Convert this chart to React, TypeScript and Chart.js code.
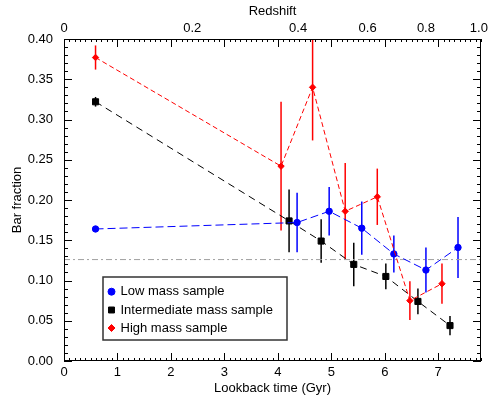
import React, { useEffect, useRef, useState } from 'react';
import { Chart, registerables } from 'chart.js';

Chart.register(...registerables);

// ---- data ----
const seriesLabels = ['Low mass sample', 'Intermediate mass sample', 'High mass sample'];

const lookbackLow = [0.59, 4.36, 4.96, 5.57, 6.17, 6.77, 7.37];
const fracLow = [0.164, 0.172, 0.186, 0.165, 0.133, 0.113, 0.141];
const errLow = [0.003, 0.037, 0.030, 0.033, 0.023, 0.028, 0.038];

const lookbackInt = [0.59, 4.21, 4.81, 5.42, 6.02, 6.62, 7.22];
const fracInt = [0.322, 0.174, 0.149, 0.120, 0.105, 0.074, 0.044];
const errInt = [0.006, 0.039, 0.027, 0.027, 0.016, 0.016, 0.012];

const lookbackHigh = [0.59, 4.06, 4.65, 5.26, 5.86, 6.47, 7.07];
const fracHigh = [0.377, 0.242, 0.340, 0.186, 0.204, 0.075, 0.096];
const errHigh = [0.015, 0.080, 0.066, 0.060, 0.035, 0.024, 0.025];

const barLevel = 0.126;

const xTickValues = [0, 1, 2, 3, 4, 5, 6, 7];
const yTickValues = [0, 0.05, 0.1, 0.15, 0.2, 0.25, 0.3, 0.35, 0.4];
const redshiftLabels = ['0', '0.2', '0.4', '0.6', '0.8', '1.0'];
const redshiftLookback = [0, 2.4, 4.38, 5.68, 6.77, 7.76];

const xMax = 7.8;
const yMax = 0.4;

const FONT = { family: "'Liberation Sans', Arial, Helvetica, sans-serif", size: 13 };

const toPts = (xs: number[], ys: number[]) => xs.map((x, i) => ({ x, y: ys[i] }));

const errorSets = [
  { xs: lookbackLow, ys: fracLow, es: errLow, color: '#0000ff' },
  { xs: lookbackInt, ys: fracInt, es: errInt, color: '#000000' },
  { xs: lookbackHigh, ys: fracHigh, es: errHigh, color: '#ff0000' },
];

const errorBarsPlugin = {
  id: 'errorBars',
  beforeDatasetsDraw(chart: any) {
    const { ctx, chartArea, scales } = chart;
    const { x, y } = scales;
    ctx.save();
    ctx.beginPath();
    ctx.rect(chartArea.left, chartArea.top, chartArea.right - chartArea.left, chartArea.bottom - chartArea.top);
    ctx.clip();
    ctx.lineWidth = 1.5;
    errorSets.forEach((s) => {
      ctx.strokeStyle = s.color;
      s.xs.forEach((xv, i) => {
        const px = x.getPixelForValue(xv);
        const y1 = y.getPixelForValue(s.ys[i] + s.es[i]);
        const y2 = y.getPixelForValue(s.ys[i] - s.es[i]);
        ctx.beginPath();
        ctx.moveTo(px, y1);
        ctx.lineTo(px, y2);
        ctx.stroke();
      });
    });
    ctx.restore();
  },
};

const frameTicksPlugin = {
  id: 'frameTicks',
  afterDatasetsDraw(chart: any) {
    const { ctx, chartArea, scales } = chart;
    const { left, right, top, bottom } = chartArea;
    const { x, y } = scales;
    ctx.save();
    ctx.strokeStyle = '#000';
    ctx.lineWidth = 1;
    ctx.setLineDash([]);
    ctx.beginPath();
    for (let i = 0; i <= Math.round(xMax * 10); i++) {
      const px = Math.round(x.getPixelForValue(i / 10)) + 0.5;
      const len = i % 10 === 0 ? 8 : 3;
      ctx.moveTo(px, bottom);
      ctx.lineTo(px, bottom - len);
      ctx.moveTo(px, top);
      ctx.lineTo(px, top + len);
    }
    for (let i = 0; i <= Math.round(yMax * 100); i++) {
      const py = Math.round(y.getPixelForValue(i / 100)) + 0.5;
      const len = i % 5 === 0 ? 8 : 4;
      ctx.moveTo(left, py);
      ctx.lineTo(left + len, py);
      ctx.moveTo(right, py);
      ctx.lineTo(right - len, py);
    }
    ctx.stroke();
    ctx.strokeRect(Math.round(left) + 0.5, Math.round(top) + 0.5, Math.round(right - left) - 1, Math.round(bottom - top) - 1);
    ctx.restore();
  },
};

const legendPlugin = {
  id: 'insideLegend',
  afterDraw(chart: any) {
    const { ctx } = chart;
    const bx = 103, by = 277, bw = 184, bh = 63;
    ctx.save();
    ctx.fillStyle = '#fff';
    ctx.fillRect(bx, by, bw, bh);
    ctx.strokeStyle = '#333';
    ctx.lineWidth = 1.5;
    ctx.strokeRect(bx, by, bw, bh);
    const rows = [291.7, 310, 328];
    const styles = ['circle', 'rect', 'rectRot'];
    const colors = ['#0000ff', '#000000', '#ff0000'];
    const radii = [3.5, 4.2, 3.5];
    seriesLabels.forEach((label, i) => {
      ctx.fillStyle = colors[i];
      ctx.strokeStyle = colors[i];
      ctx.lineWidth = 1;
      const mx = 111.5, my = rows[i], r = radii[i];
      ctx.beginPath();
      if (styles[i] === 'circle') {
        ctx.arc(mx, my, r, 0, Math.PI * 2);
      } else if (styles[i] === 'rect') {
        const h = r * Math.SQRT1_2;
        ctx.rect(mx - h, my - h, 2 * h, 2 * h);
      } else {
        ctx.moveTo(mx, my - r);
        ctx.lineTo(mx + r, my);
        ctx.lineTo(mx, my + r);
        ctx.lineTo(mx - r, my);
        ctx.closePath();
      }
      ctx.fill();
      ctx.stroke();
      ctx.fillStyle = '#000';
      ctx.font = `${FONT.size}px ${FONT.family}`;
      ctx.textBaseline = 'middle';
      ctx.textAlign = 'left';
      ctx.fillText(label, 120.5, my);
    });
    ctx.restore();
  },
};

export default function App() {
  const ref = useRef<HTMLCanvasElement | null>(null);
  const [topTicks, setTopTicks] = useState<{ label: string; px: number; y: number }[]>([]);

  useEffect(() => {
    if (!ref.current) return;
    const chart = new Chart(ref.current, {
      type: 'line',
      data: {
        datasets: [
          {
            label: seriesLabels[0],
            data: toPts(lookbackLow, fracLow),
            borderColor: '#0000ff',
            backgroundColor: '#0000ff',
            borderWidth: 1,
            borderDash: [8, 4],
            pointStyle: 'circle',
            pointRadius: 3.2,
            pointBorderWidth: 1,
            order: 1,
          },
          {
            label: seriesLabels[1],
            data: toPts(lookbackInt, fracInt),
            borderColor: '#000000',
            backgroundColor: '#000000',
            borderWidth: 1,
            borderDash: [7, 5],
            pointStyle: 'rect',
            pointRadius: 4.3,
            pointBorderWidth: 1,
            order: 2,
          },
          {
            label: seriesLabels[2],
            data: toPts(lookbackHigh, fracHigh),
            borderColor: '#ff0000',
            backgroundColor: '#ff0000',
            borderWidth: 1,
            borderDash: [5, 3],
            pointStyle: 'rectRot',
            pointRadius: 3.2,
            pointBorderWidth: 1,
            order: 0,
          },
          {
            label: 'level',
            data: [{ x: 0, y: barLevel }, { x: xMax, y: barLevel }],
            borderColor: '#a0a0a0',
            borderWidth: 1,
            borderDash: [6, 3, 2, 3],
            pointRadius: 0,
            order: 5,
          },
        ],
      },
      options: {
        animation: false,
        responsive: false,
        layout: { padding: { left: 0, right: 7, top: 0, bottom: 0 }, autoPadding: false },
        plugins: { legend: { display: false }, tooltip: { enabled: false } },
        scales: {
          x: {
            type: 'linear',
            position: 'bottom',
            min: 0,
            max: xMax,
            grid: { display: false, drawTicks: false },
            border: { display: false },
            ticks: { padding: 4, color: '#000', font: FONT, maxRotation: 0, autoSkip: false },
            afterBuildTicks: (s: any) => { s.ticks = xTickValues.map((v) => ({ value: v })); },
            afterFit: (s: any) => { s.height = 39; },
            title: { display: true, text: 'Lookback time (Gyr)', color: '#000', font: FONT, padding: { top: 0, bottom: 4 } },
          },
          x2: {
            type: 'linear',
            position: 'top',
            min: 0,
            max: xMax,
            grid: { display: false, drawTicks: false },
            border: { display: false },
            ticks: { display: false },
            afterFit: (s: any) => { s.height = 39; },
            title: { display: true, text: 'Redshift', color: '#000', font: FONT, padding: { top: 4, bottom: 0 } },
          },
          y: {
            type: 'linear',
            position: 'left',
            min: 0,
            max: yMax,
            grid: { display: false, drawTicks: false },
            border: { display: false },
            ticks: { padding: 11, color: '#000', font: FONT, callback: (v: any) => Number(v).toFixed(2) },
            afterBuildTicks: (s: any) => { s.ticks = yTickValues.map((v) => ({ value: v })); },
            afterFit: (s: any) => { s.width = 64; },
            title: { display: true, text: 'Bar fraction', color: '#000', font: FONT, padding: { top: 10, bottom: 0 } },
          },
        },
      } as any,
      plugins: [errorBarsPlugin, frameTicksPlugin, legendPlugin],
    });
    // top (redshift) tick labels, positioned through the top axis scale
    const s: any = chart.scales.x2;
    setTopTicks(redshiftLabels.map((label, i) => ({ label, px: s.getPixelForValue(redshiftLookback[i]), y: s.bottom - 11 })));
    return () => chart.destroy();
  }, []);

  return (
    <div style={{ position: 'absolute', left: 0, top: 0, width: 488, height: 400, background: '#fff', overflow: 'hidden' }}>
      <canvas ref={ref} width={488} height={400} style={{ display: 'block' }} />
      {topTicks.map((t) => (
        <span
          key={t.label}
          style={{
            position: 'absolute',
            left: Math.min(t.px, 479),
            top: t.y - 8,
            height: 16,
            lineHeight: '16px',
            transform: 'translateX(-50%)',
            whiteSpace: 'nowrap',
            fontFamily: FONT.family,
            fontSize: FONT.size,
            color: '#000',
          }}
        >
          {t.label}
        </span>
      ))}
    </div>
  );
}
